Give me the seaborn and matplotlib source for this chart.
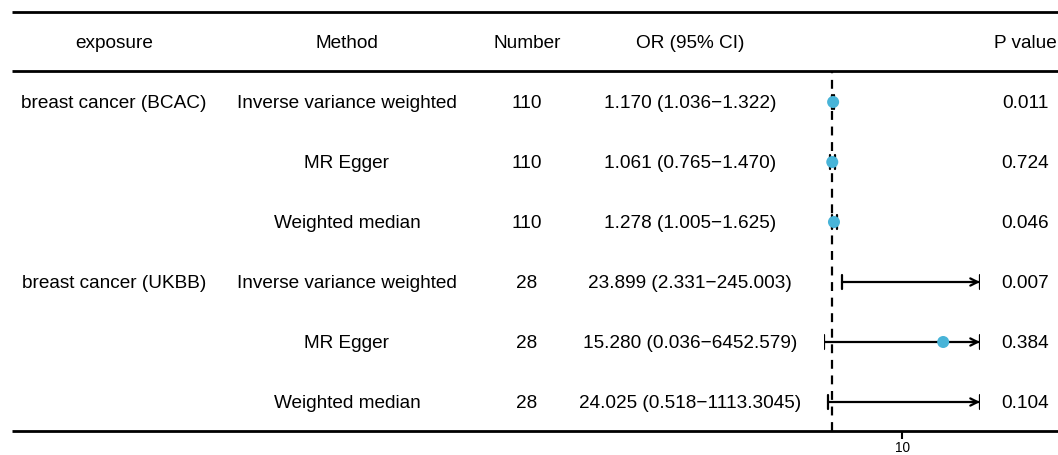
import matplotlib
matplotlib.use('Agg')
import matplotlib.pyplot as plt
import seaborn as sns
import pandas as pd

# table data
exposures = ['breast cancer (BCAC)', '', '', 'breast cancer (UKBB)', '', '']
methods = ['Inverse variance weighted', 'MR Egger', 'Weighted median',
           'Inverse variance weighted', 'MR Egger', 'Weighted median']
numbers = ['110', '110', '110', '28', '28', '28']
or_labels = ['1.170 (1.036\u22121.322)', '1.061 (0.765\u22121.470)', '1.278 (1.005\u22121.625)',
             '23.899 (2.331\u2212245.003)', '15.280 (0.036\u22126452.579)', '24.025 (0.518\u22121113.3045)']
p_values = ['0.011', '0.724', '0.046', '0.007', '0.384', '0.104']
or_est = [1.170, 1.061, 1.278, 23.899, 15.280, 24.025]
or_low = [1.036, 0.765, 1.005, 2.331, 0.036, 0.518]
or_high = [1.322, 1.470, 1.625, 245.003, 6452.579, 1113.3045]
headers = ['exposure', 'Method', 'Number', 'OR (95% CI)', '', 'P value']
x_ticks = [10]

sns.set_theme(style='white')
plt.rcParams['font.family'] = ['Liberation Sans', 'DejaVu Sans']
plt.rcParams['text.color'] = 'black'
plt.rcParams['xtick.color'] = 'black'
plt.rcParams['xtick.labelcolor'] = 'black'

W, H = 1058, 455
fig = plt.figure(figsize=(W / 100, H / 100), dpi=100)

# table axes in pixel coordinates
ax = fig.add_axes([0, 0, 1, 1])
ax.set_xlim(0, W)
ax.set_ylim(H, 0)
ax.axis('off')

col_x = [114, 347, 527, 690, 0, 1025]
fs = 13.7
header_y = 44
row_y0, row_step = 102, 60

for x, h in zip(col_x, headers):
    if h:
        ax.text(x, header_y, h, ha='center', va='center', fontsize=fs, color='black')

cols = [exposures, methods, numbers, or_labels, None, p_values]
for x, col in zip(col_x, cols):
    if col is None:
        continue
    for i, val in enumerate(col):
        ax.text(x, row_y0 + 1 + i * row_step, val, ha='center', va='center',
                fontsize=fs, color='black')

for y in [12, 71, 431]:
    ax.plot([12, W], [y, y], color='black', lw=2, solid_capstyle='butt')

# forest plot axes
x0, x1 = 824, 980
y_top, y_bot = 72, 431
fax = fig.add_axes([x0 / W, (H - y_bot) / H, (x1 - x0) / W, (y_bot - y_top) / H])
fax.patch.set_alpha(0)
xmin, xmax = 0, 20
fax.set_xlim(xmin, xmax)
n = len(or_est)
fax.set_ylim((y_bot - row_y0) / row_step, (y_top - row_y0) / row_step)
for s in ['top', 'left', 'right', 'bottom']:
    fax.spines[s].set_visible(False)
fax.set_yticks([])
fax.set_xticks(x_ticks)
fax.tick_params(axis='x', length=6, width=1.5, color='black', direction='out',
                labelsize=9.8, pad=1, bottom=True, labelcolor='black')
fax.grid(False)

fax.axvline(1, color='black', ls=(0, (4, 3)), lw=1.6, zorder=1)

cap = 0.12
for i in range(n):
    lo = max(or_low[i], xmin)
    hi = min(or_high[i], xmax)
    fax.plot([lo, hi], [i, i], color='black', lw=1.6, zorder=2)
    fax.plot([lo, lo], [i - cap, i + cap], color='black', lw=1.6, zorder=2)
    fax.plot([hi, hi], [i - cap, i + cap], color='black', lw=1.6, zorder=2)
    if or_high[i] > xmax:
        fax.annotate('', xy=(xmax, i), xytext=(xmax - 1.2, i),
                     arrowprops=dict(arrowstyle='->', color='black', lw=1.6,
                                     mutation_scale=13, shrinkA=0, shrinkB=0))

df = pd.DataFrame({'est': or_est, 'row': list(range(n))})
sns.scatterplot(data=df, x='est', y='row', ax=fax, color='#48B4D8', s=75,
                edgecolor='none', zorder=3, legend=False)
fax.set_xlabel('')
fax.set_ylabel('')

fig.savefig('out.png', dpi=100)
